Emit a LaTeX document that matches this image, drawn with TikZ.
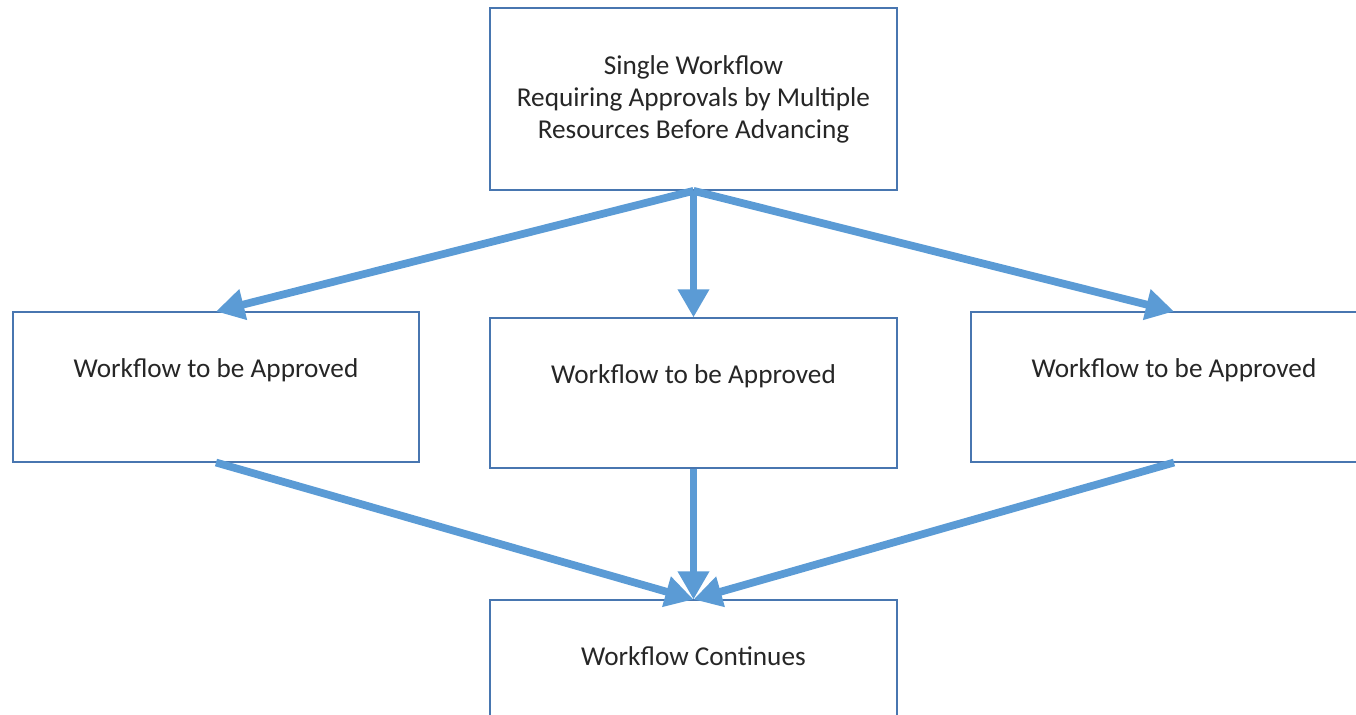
\documentclass[tikz,border=0pt]{standalone}
\usepackage{fontspec}
\setmainfont{Carlito}
\usepackage{tikz}
\usetikzlibrary{
  arrows.meta,
  scopes
}
\definecolor{flowblue}{RGB}{91,155,213}
\definecolor{boxblue}{RGB}{72,118,176}

\begin{document}
\begin{tikzpicture}[
      x=0.02cm,y=-0.02cm,
      stage/.style={
         rectangle,
         draw=boxblue,
         line width=1pt,
         fill=white,
         minimum width=8.13cm,
         inner sep=0pt,
         text=black!85,
         font=\fontsize{15.5}{18.2}\selectfont,
      },
      head/.style={stage,align=center,minimum height=3.64cm},
      branch/.style={stage,text height=37pt,text depth=48pt},
      >={Triangle[length=16pt,width=17pt]},
      tip/.style={->,line width=4.4pt,draw=flowblue},
    ]
    \clip (0,0) rectangle (1356,715);
    % boxes
    \node (n12) [head]   at (693.5,99)  {Single Workflow\\Requiring Approvals by Multiple\\Resources Before Advancing};
    \node (n21) [branch] at (216,387)   {Workflow to be Approved};
    \node (n22) [branch] at (693.5,393) {Workflow to be Approved};
    \node (n23) [branch] at (1174,387)  {Workflow to be Approved};
    \node (n32) [branch] at (693.5,675) {Workflow Continues};
    % connectors
    \draw [tip] (n12.south) -- (n21.north);
    \draw [tip] (n12.south) -- (n22.north);
    \draw [tip] (n12.south) -- (n23.north);
    \draw [tip] (n21.south) -- (n32.north);
    \draw [tip] (n22.south) -- (n32.north);
    \draw [tip] (n23.south) -- (n32.north);
\end{tikzpicture}
\end{document}
